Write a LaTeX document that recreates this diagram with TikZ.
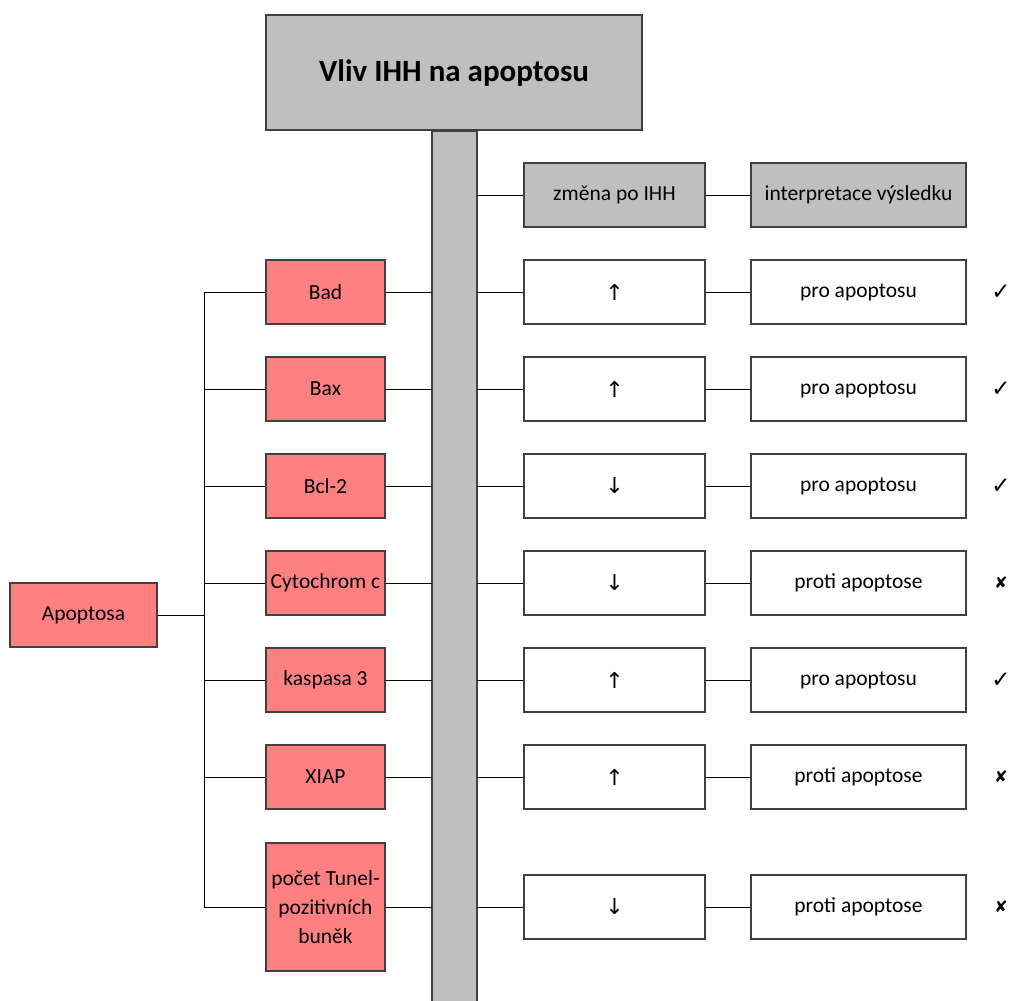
\documentclass[tikz,border=0pt]{standalone}
\usepackage{fontspec}
\setmainfont{Carlito}
\newfontfamily\symfont{DejaVu Sans}
\begin{document}
\begin{tikzpicture}[x=1pt,y=-1pt,
  box/.style={draw=black!75,line width=1.1pt,inner sep=0pt,font=\fontsize{21.5}{29}\selectfont},
  redbox/.style={box,fill=red!50,minimum width=119pt,minimum height=64pt},
  graybox/.style={box,fill=black!25},
  whitebox/.style={box,fill=white,minimum height=64pt},
  link/.style={draw=black,line width=0.9pt},
  tick/.style={font=\symfont\fontsize{23}{25}\selectfont},
  cross/.style={font=\symfont\fontsize{16}{18}\selectfont}]
\useasboundingbox (0,0) rectangle (1013,1001);
% title and central bar
\node[graybox,minimum width=376pt,minimum height=115pt,text depth=3pt,font=\fontsize{31}{34}\selectfont\bfseries] (title) at (454,72.5) {Vliv IHH na apoptosu};
\fill[black!25,draw=black!75,line width=1.1pt] (432,131) rectangle (477,1003);
\coordinate (barL) at (432,0);
\coordinate (barR) at (477,0);
% column headings
\node[graybox,minimum width=181pt,minimum height=64pt] (hc) at (614.5,195) {změna po IHH};
\node[graybox,minimum width=215pt,minimum height=64pt] (hi) at (858.5,195) {interpretace výsledku};
\draw[link] (barR|-hc) -- (hc.west);
\draw[link] (hc.east) -- (hi.west);
% root
\node[redbox,minimum width=147pt] (root) at (83.5,615) {Apoptosa};
\coordinate (trunk) at (204,615);
\draw[link] (root.east) -- (trunk);
% rows
\foreach \n/\y/\lab/\arr/\res/\ok/\ms/\h in {
  a/292/Bad/↑/pro apoptosu/✓/tick/64,
  b/389/Bax/↑/pro apoptosu/✓/tick/64,
  c/486/Bcl-2/↓/pro apoptosu/✓/tick/64,
  d/583/Cytochrom c/↓/proti apoptose/✘/cross/64,
  e/680/kaspasa 3/↑/pro apoptosu/✓/tick/64,
  f/777/XIAP/↑/proti apoptose/✘/cross/64,
  g/907/{počet Tunel-\\pozitivních\\buněk}/↓/proti apoptose/✘/cross/128}{
  \node[redbox,minimum height=\h pt,align=center] (L\n) at (325.5,\y) {\lab};
  \node[whitebox,minimum width=181pt,font=\symfont\fontsize{22}{24}\selectfont] (C\n) at (614.5,\y) {\arr};
  \node[\ms] (M\n) at (1001,\y) {\ok};
  \node[whitebox,minimum width=215pt] (R\n) at (858.5,\y) {\res};
  \draw[link] (trunk|-L\n) -- (L\n.west);
  \draw[link] (L\n.east) -- (barL|-L\n);
  \draw[link] (barR|-C\n) -- (C\n.west);
  \draw[link] (C\n.east) -- (R\n.west);
}
\draw[link] (trunk|-La) -- (trunk|-Lg);
\end{tikzpicture}
\end{document}
